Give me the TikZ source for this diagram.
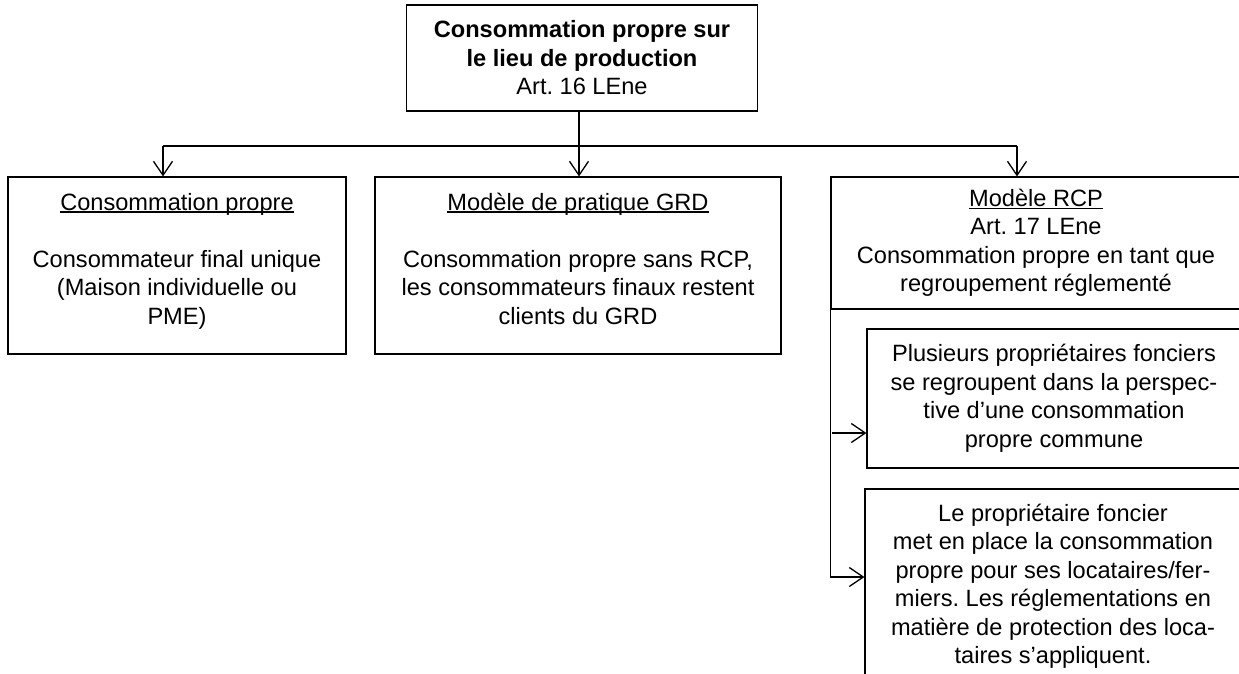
\documentclass[tikz,border=0pt]{standalone}
\usepackage{fontspec}
\setmainfont{Liberation Sans}
\usetikzlibrary{arrows.meta,calc}
\frenchspacing
\newcommand\ulx[1]{\setbox0\hbox{#1}\rlap{\rule[-2.8pt]{\wd0}{1.5pt}}\box0}
\begin{document}
\begin{tikzpicture}[x=1pt,y=-1pt,
  box/.style={draw, line width=1.1pt, inner sep=0pt},
  txt/.style={font=\fontsize{23.6}{28.5}\selectfont\frenchspacing, align=center, inner sep=0pt},
  conn/.style={line width=1.3pt},
  arr/.style={conn, -{Straight Barb[length=14pt,width=19pt,line width=1.3pt]}}]
\useasboundingbox (0,0) rectangle (1239,673);

% top box
\node[box, txt, minimum width=351pt, minimum height=106pt] (top) at (582,58)
  {\textbf{Consommation propre sur}\\\textbf{le lieu de production}\\Art. 16 LEne};

% second row
\node[box, minimum width=338pt, minimum height=177pt] (cp) at (177,265.5) {};
\node[txt, anchor=north] (cpt) at ($(cp.north)+(0,13.5)$)
  {\strut\ulx{Consommation propre}\\ ~ \\Consommateur final unique\\(Maison individuelle ou\\PME)};

\node[box, minimum width=406pt, minimum height=177pt] (gr) at (578,265.5) {};
\node[txt, anchor=north] (grt) at ($(gr.north)+(0,13.5)$)
  {\strut\ulx{Modèle de pratique GRD}\\ ~ \\Consommation propre sans RCP,\\les consommateurs finaux restent\\clients du GRD};

\node[box, txt, minimum width=410pt, minimum height=132pt] (rcp) at (1036,243)
  {\ulx{Modèle RCP}\\Art. 17 LEne\\Consommation propre en tant que\\regroupement réglementé};

% sub boxes
\node[box, txt, minimum width=374pt, minimum height=139pt] (plus) at (1054,398.5)
  {Plusieurs propriétaires fonciers\\se regroupent dans la perspec-\\tive d’une consommation\\propre commune};
\node[box, txt, minimum width=376pt, minimum height=194pt] (bot) at (1053,586)
  {Le propriétaire foncier\\met en place la consommation\\propre pour ses locataires/fer-\\miers. Les réglementations en\\matière de protection des loca-\\taires s’appliquent.};

% connectors
\coordinate (j) at (579,146);
\coordinate (hl) at (163,146);
\coordinate (hr) at (1017,146);
\draw[conn] (top.south -| j) -- (j);
\draw[conn] (hl) -- (hr);
\draw[arr] (hl) -- (hl |- cp.north);
\draw[arr] (j) -- (j |- gr.north);
\draw[arr] (hr) -- (hr |- rcp.north);

\coordinate (a1) at (832,433);
\coordinate (a2) at (832,577);
\draw[arr] (rcp.south west) |- (a2 -| bot.west);
\draw[arr] (a1) -- (a1 -| plus.west);
\end{tikzpicture}
\end{document}
